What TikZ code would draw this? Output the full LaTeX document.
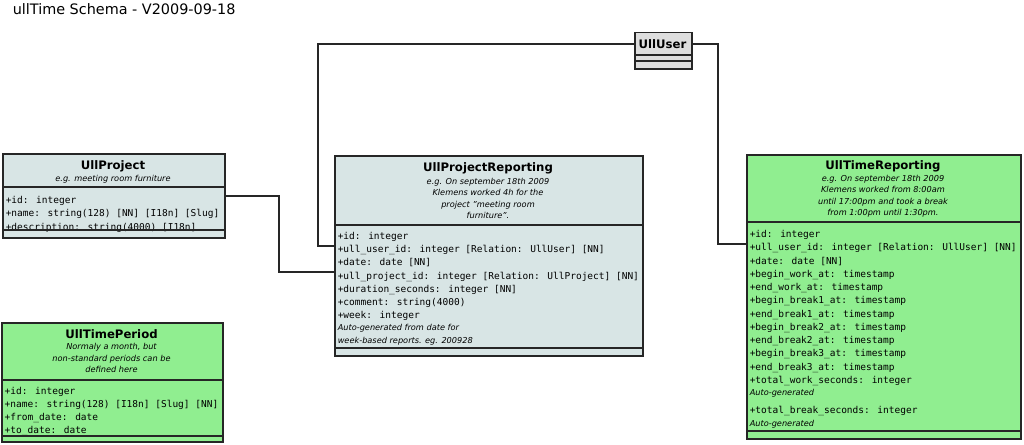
\documentclass[tikz,border=0pt]{standalone}
\usepackage{fontspec}
\setmainfont{DejaVu Sans}
\newfontfamily\umlmono{DejaVu Sans Mono}
\usetikzlibrary{positioning}
\definecolor{grigioblu}{RGB}{216,229,229}
\definecolor{verde}{RGB}{144,238,144}
\definecolor{grigio}{RGB}{222,222,222}

\begin{document}
\begin{tikzpicture}[x=1pt, y=-1pt, line width=1.5pt,
    classe/.style = {draw=black!85, anchor=north west, inner sep=0pt},
    titolo/.style = {font=\fontsize{11.7}{13}\selectfont\bfseries},
    nota/.style = {font=\fontsize{8.2}{11.5}\selectfont\itshape, align=center, inner sep=0pt},
    attr/.style = {anchor=base west, inner sep=0pt, font=\umlmono\fontsize{9.5}{13}\selectfont},
    nattr/.style = {anchor=base west, inner sep=0pt, font=\fontsize{8.2}{11}\selectfont\itshape},
    link/.style = {draw=black!85, line width=1.2pt}]
\useasboundingbox (0,0) rectangle (1024,444);

% Titolo dello schema
\node[anchor=west, inner sep=0pt, font=\fontsize{14.4}{16}\selectfont] (titoloschema) at (12,9) {ullTime Schema - V2009-09-18};

% Disegna le classi
\node[classe, fill=grigio, minimum width=57, minimum height=36] (user) at (634,32) {};
\node[titolo] (usert) at (662.5,44) {UllUser};
\draw[black!85] (634,55) -- (691,55) (634,61) -- (691,61);

\node[classe, fill=grigioblu, minimum width=222, minimum height=84] (proj) at (2,153) {};
\node[titolo] (projt) at (113,166) {UllProject};
\node[nota] (projn) at (113,179) {e.g. meeting room furniture};
\foreach \testo [count=\i] in {{+id: integer},
    {+name: string(128) [NN] [I18n] [Slug]},
    {+description: string(4000) [I18n]}}
  \node[attr] (proja\i) at (5,189.5+13.5*\i) {\testo};
\draw[black!85] (2,187) -- (224,187) (2,230) -- (224,230);

\node[classe, fill=verde, minimum width=221, minimum height=119] (per) at (1,322) {};
\node[titolo] (pert) at (111.5,334) {UllTimePeriod};
\node[nota] (pern) at (111.5,358) {Normaly a month, but\\non-standard periods can be\\defined here};
\foreach \testo [count=\i] in {{+id: integer},
    {+name: string(128) [I18n] [Slug] [NN]},
    {+from\_date: date},
    {+to\_date: date}}
  \node[attr] (pera\i) at (4,381.5+13*\i) {\testo};
\draw[black!85] (1,380) -- (222,380) (1,436) -- (222,436);

\node[classe, fill=grigioblu, minimum width=308, minimum height=200] (pr) at (334,155) {};
\node[titolo] (prt) at (488,168) {UllProjectReporting};
\node[nota] (prn) at (488,198.5) {e.g. On september 18th 2009\\Klemens worked 4h for the\\project "meeting room\\furniture".};
\foreach \testo [count=\i] in {{+id: integer},
    {+ull\_user\_id: integer [Relation: UllUser] [NN]},
    {+date: date [NN]},
    {+ull\_project\_id: integer [Relation: UllProject] [NN]},
    {+duration\_seconds: integer [NN]},
    {+comment: string(4000)},
    {+week: integer}}
  \node[attr] (pra\i) at (337,226.3+13.2*\i) {\testo};
\node[nattr] (prn1) at (337,330.5) {Auto-generated from date for};
\node[nattr] (prn2) at (337,343.5) {week-based reports. eg. 200928};
\draw[black!85] (334,225) -- (642,225) (334,348) -- (642,348);

\node[classe, fill=verde, minimum width=274, minimum height=284] (tr) at (746,154) {};
\node[titolo] (trt) at (883,166) {UllTimeReporting};
\node[nota] (trn) at (883,196) {e.g. On september 18th 2009\\Klemens worked from 8:00am\\until 17:00pm and took a break\\from 1:00pm until 1:30pm.};
\foreach \testo [count=\i] in {{+id: integer},
    {+ull\_user\_id: integer [Relation: UllUser] [NN]},
    {+date: date [NN]},
    {+begin\_work\_at: timestamp},
    {+end\_work\_at: timestamp},
    {+begin\_break1\_at: timestamp},
    {+end\_break1\_at: timestamp},
    {+begin\_break2\_at: timestamp},
    {+end\_break2\_at: timestamp},
    {+begin\_break3\_at: timestamp},
    {+end\_break3\_at: timestamp},
    {+total\_work\_seconds: integer}}
  \node[attr] (tra\i) at (749,224.23+13.27*\i) {\testo};
\node[nattr] (trn1) at (749,395.5) {Auto-generated};
\node[attr] (tra13) at (749,413.5) {+total\_break\_seconds: integer};
\node[nattr] (trn2) at (749,426.5) {Auto-generated};
\draw[black!85] (746,222) -- (1020,222) (746,431) -- (1020,431);

% Collegamenti
\coordinate (k1) at (318,246);
\coordinate (k2) at (718,244);
\coordinate (k3) at (279,196);
\coordinate (k4) at (279,272);
\draw[link] (user.west |- usert) -| (k1) -- (pr.west |- k1);
\draw[link] (user.east |- usert) -| (k2) -- (tr.west |- k2);
\draw[link] (proj.east |- k3) -- (k3) -- (k4) -- (pr.west |- k4);
\end{tikzpicture}
\end{document}
